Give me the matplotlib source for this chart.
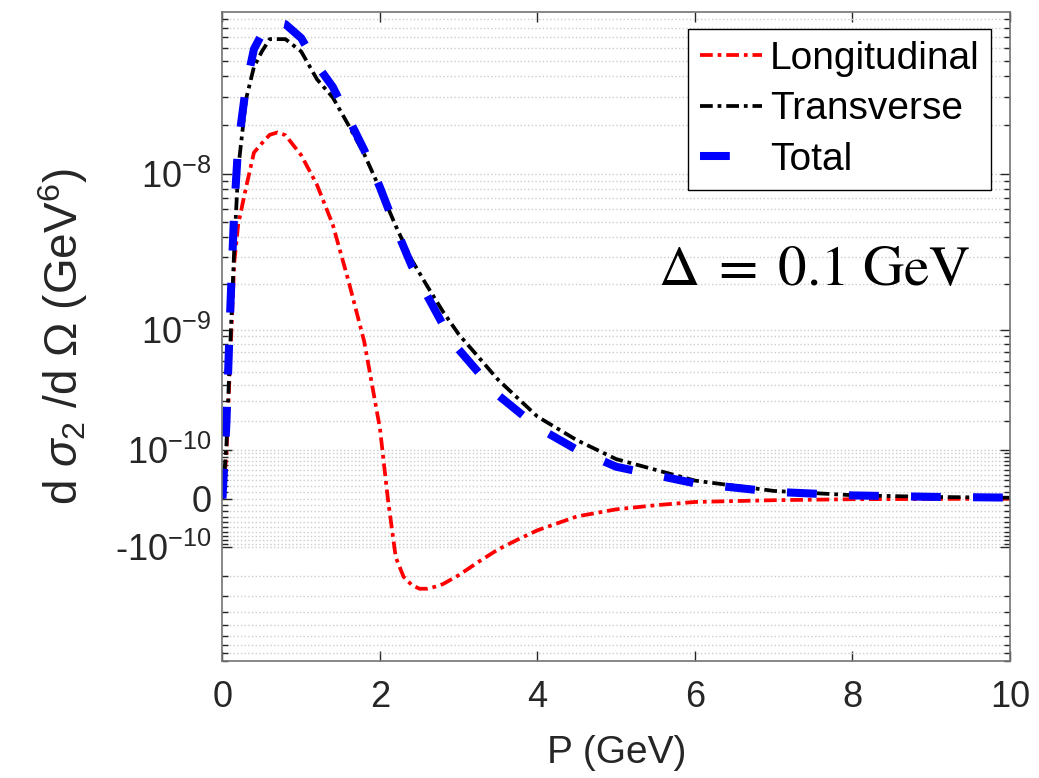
import numpy as np
import matplotlib
matplotlib.use('Agg')
import matplotlib.pyplot as plt
from matplotlib.ticker import FixedLocator, FixedFormatter

plt.rcParams['font.family'] = ['Liberation Sans', 'DejaVu Sans']
plt.rcParams['mathtext.fontset'] = 'custom'
plt.rcParams['mathtext.rm'] = 'Liberation Sans'
plt.rcParams['mathtext.it'] = 'Liberation Sans:italic'
plt.rcParams['mathtext.bf'] = 'Liberation Sans:bold'

# momentum P (GeV) and cross sections (GeV^6)
p_long = [0, 0.05, 0.1, 0.15, 0.2, 0.3, 0.4, 0.5, 0.6, 0.7, 0.8, 1.0, 1.2, 1.4,
          1.6, 1.8, 2.0, 2.1, 2.2, 2.3, 2.4, 2.5, 2.6, 2.7, 2.8, 3.0, 3.25, 3.5,
          3.75, 4.0, 4.5, 5.0, 5.5, 6.0, 7.0, 8.0, 9.0, 10.0]
longitudinal = [0, 0.85e-10, 6.6e-10, 2.75e-9, 4.8e-9, 8.2e-9, 1.35e-8, 1.54e-8,
                1.74e-8, 1.8e-8, 1.73e-8, 1.3e-8, 8.5e-9, 4.8e-9, 2.1e-9, 8.3e-10,
                1.7e-10, 0.0, -1.3e-10, -2.04e-10, -2.4e-10, -2.6e-10, -2.6e-10,
                -2.5e-10, -2.37e-10, -1.97e-10, -1.46e-10, -1.06e-10, -7.9e-11,
                -5.7e-11, -2.9e-11, -1.66e-11, -1.0e-11, -5.0e-12, -2.4e-12,
                -1.0e-12, -0.6e-12, -0.3e-12]

p = [0, 0.05, 0.1, 0.15, 0.2, 0.3, 0.4, 0.5, 0.6, 0.7, 0.8, 1.0, 1.2, 1.4, 1.6,
     1.8, 2.0, 2.2, 2.4, 2.6, 2.8, 3.0, 3.5, 4.0, 4.5, 5.0, 6.0, 7.0, 8.0, 9.0, 10.0]
transverse = [0, 1.1e-10, 8.0e-10, 3.4e-9, 1.07e-8, 2.9e-8, 4.58e-8, 5.7e-8, 6.8e-8,
              6.8e-8, 6.8e-8, 5.7e-8, 3.84e-8, 2.97e-8, 2.0e-8, 1.32e-8, 8.0e-9,
              4.7e-9, 2.88e-9, 1.94e-9, 1.32e-9, 9.3e-10, 4.4e-10, 2.2e-10,
              1.29e-10, 7.5e-11, 2.9e-11, 1.14e-11, 4.8e-12, 2.3e-12, 1.1e-12]
total = [0, 1.9e-10, 1.4e-9, 6.0e-9, 1.5e-8, 3.5e-8, 5.9e-8, 7.3e-8, 8.5e-8,
         8.6e-8, 8.4e-8, 6.9e-8, 4.7e-8, 3.45e-8, 2.2e-8, 1.4e-8, 8.2e-9,
         4.56e-9, 2.64e-9, 1.68e-9, 1.08e-9, 7.3e-10, 3.34e-10, 1.75e-10,
         1.0e-10, 5.7e-11, 2.4e-11, 1.0e-11, 4.5e-12, 2.4e-12, 1.3e-12]

ytick_vals = [-1e-10, 0, 1e-10, 1e-9, 1e-8]
ytick_labels = ['-$10^{-10}$', '0', '$10^{-10}$', '$10^{-9}$', '$10^{-8}$']

C = 1e-10


def fwd(y):
    y = np.asarray(y, dtype=float)
    return np.sign(y) * np.log10(1 + np.abs(y) / C)


def inv(t):
    t = np.asarray(t, dtype=float)
    return np.sign(t) * C * (10 ** np.abs(t) - 1)


fig = plt.figure(figsize=(10.39, 7.78), dpi=100)
ax = fig.add_axes([0.2141, 0.1508, 0.758, 0.8338])

dashdot = (0, (3.4, 1.3, 1.0, 1.3))
ax.plot(p_long, longitudinal, color='red', lw=2.7, linestyle=dashdot, label='Longitudinal')
ax.plot(p, transverse, color='black', lw=2.7, linestyle=dashdot, label='Transverse')
ax.plot(p, total, color='blue', lw=5.8, linestyle=(0, (3.7, 4.0)), label='Total')

ax.set_yscale('function', functions=(fwd, inv))
ax.set_ylim(-9e-10, 1e-7)
ax.set_xlim(0, 10)

minors = []
for k in range(-11, -7):
    for m in range(1, 10):
        v = m * 10.0 ** k
        if v in ytick_vals or v > 1e-7:
            continue
        minors.append(v)
        if v <= 9e-10:
            minors.append(-v)
ax.yaxis.set_major_locator(FixedLocator(ytick_vals))
ax.yaxis.set_major_formatter(FixedFormatter(ytick_labels))
ax.yaxis.set_minor_locator(FixedLocator(sorted(minors)))
ax.set_xticks([0, 2, 4, 6, 8, 10])

ax.yaxis.grid(True, which='both', linestyle=':', color='0.8', lw=1.0)
ax.set_axisbelow(True)

ax.tick_params(which='both', direction='in', top=True, right=True,
               colors='0.15', labelsize=26, width=1.0)
ax.tick_params(which='major', length=7)
ax.tick_params(which='minor', length=4)
ax.tick_params(axis='x', pad=14)
ax.tick_params(axis='y', pad=8)
for s in ax.spines.values():
    s.set_color('0.45')
    s.set_linewidth(1.2)

ax.set_xlabel('P (GeV)', fontsize=28, color='0.15', labelpad=14)
ax.set_ylabel(r'd $\sigma_2$ /d $\Omega$ (GeV$^6$)', fontsize=33, color='0.15', labelpad=18)

ax.text(0.752, 0.602, r'$\Delta \;=\; 0.1\ \mathrm{GeV}$', transform=ax.transAxes,
        fontsize=41, ha='center', va='center', math_fontfamily='stix')

leg = ax.legend(loc='upper right', bbox_to_anchor=(0.976, 0.974), fontsize=28,
                fancybox=False, edgecolor='black', framealpha=1, borderaxespad=0,
                handlelength=1.6, handletextpad=0.2, labelspacing=0.38, borderpad=0.3)
leg.get_frame().set_linewidth(1.0)

plt.savefig('out.png', dpi=100)
